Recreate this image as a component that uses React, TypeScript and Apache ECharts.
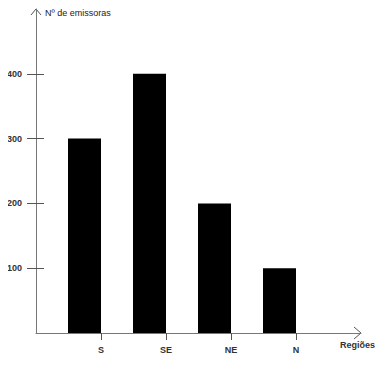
import React, { useEffect, useRef } from "react";
import * as echarts from "echarts";

const categories = ["", "S", "SE", "NE", "N", ""];
const emissoras = [null, 300, 400, 200, 100, null];
const spacer = [null, null, null, null, null, null];
const yTicks = [100, 200, 300, 400];
const yTitle = "Nº de emissoras";
const xTitle = "Regiões";

const FONT = "Liberation Sans, Arial, sans-serif";

export default function App() {
  const ref = useRef<HTMLDivElement>(null);
  useEffect(() => {
    if (!ref.current) return;
    const chart = echarts.init(ref.current, null, { renderer: "svg" });
    chart.setOption({
      animation: false,
      backgroundColor: "#ffffff",
      grid: { left: 36, right: 29, top: 9, bottom: 42, containLabel: false },
      xAxis: {
        type: "category",
        data: categories,
        boundaryGap: false,
        axisLine: { show: true, lineStyle: { color: "#777", width: 1 } },
        axisTick: {
          show: true,
          length: 7,
          interval: (_i: number, v: string) => v !== "",
          lineStyle: { color: "#555" },
        },
        axisLabel: {
          interval: 0,
          margin: 12,
          fontSize: 9,
          fontWeight: "bold",
          fontFamily: FONT,
          color: "#333",
        },
        splitLine: { show: false },
      },
      yAxis: [
        {
          type: "value",
          min: 0,
          max: 500,
          interval: 100,
          axisLine: { show: true, lineStyle: { color: "#777", width: 1 } },
          axisTick: {
            show: true,
            length: 9,
            customValues: yTicks,
            lineStyle: { color: "#555" },
          },
          axisLabel: {
            customValues: yTicks,
            margin: 14,
            fontSize: 9,
            fontWeight: "bold",
            fontFamily: FONT,
            color: "#333",
          },
          splitLine: { show: false },
        },
        {
          type: "value",
          position: "left",
          min: 0,
          max: 500,
          interval: 100,
          axisLine: { show: true, lineStyle: { color: "rgba(0,0,0,0)" } },
          axisTick: {
            show: true,
            inside: true,
            length: 8,
            customValues: yTicks,
            lineStyle: { color: "#555" },
          },
          axisLabel: { show: false },
          splitLine: { show: false },
        },
      ],
      series: [
        {
          type: "bar",
          data: emissoras,
          barWidth: 33,
          barGap: "0%",
          itemStyle: { color: "#000" },
        },
        {
          type: "bar",
          data: spacer,
          barWidth: 33,
          barGap: "0%",
          itemStyle: { color: "transparent" },
        },
      ],
      graphic: [
        {
          type: "polyline",
          shape: { points: [[31, 15], [36, 9], [41, 15]] },
          style: { stroke: "#555", fill: "none", lineWidth: 1 },
        },
        {
          type: "polyline",
          shape: { points: [[354, 327], [361, 333], [354, 339]] },
          style: { stroke: "#555", fill: "none", lineWidth: 1 },
        },
        {
          type: "text",
          left: 45,
          top: 8,
          style: { text: yTitle, fontSize: 9, fontFamily: FONT, fill: "#222" },
        },
        {
          type: "text",
          left: 340,
          top: 340,
          style: { text: xTitle, fontSize: 9, fontWeight: "bold", fontFamily: FONT, fill: "#333" },
        },
      ],
    });
    return () => chart.dispose();
  }, []);
  return <div ref={ref} style={{ width: 390, height: 375, margin: -8 }} />;
}
